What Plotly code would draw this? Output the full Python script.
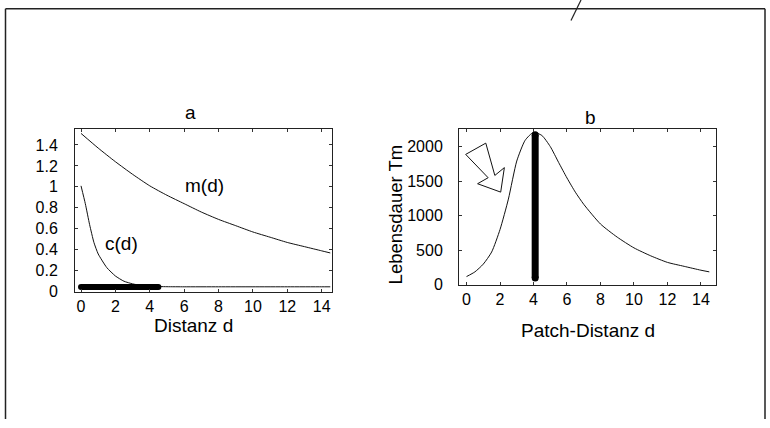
import plotly.graph_objects as go

W, H = 770, 428

# ---------------- Panel a data ----------------
d_m = [0, 1, 2, 3, 4, 5, 6, 7, 8, 9, 10, 11, 12, 13, 14, 14.5]
m_vals = [1.51, 1.37, 1.24, 1.12, 1.01, 0.92, 0.84, 0.76, 0.69, 0.63, 0.57, 0.52, 0.47, 0.43, 0.39, 0.37]

d_c = [0, 0.25, 0.5, 0.75, 1, 1.5, 2, 2.5, 3, 3.5, 4, 5, 6, 8, 10, 12, 14, 14.5]
c_vals = [1.01, 0.84, 0.64, 0.47, 0.36, 0.23, 0.15, 0.10, 0.075, 0.06, 0.052, 0.048, 0.047, 0.047, 0.047, 0.047, 0.047, 0.047]

bar_a_d = [0, 4.5]
bar_a_v = [0.045, 0.045]

a_xticks = [0, 2, 4, 6, 8, 10, 12, 14]
a_yticks = [0, 0.2, 0.4, 0.6, 0.8, 1.0, 1.2, 1.4]
a_yticktext = ["0", "0.2", "0.4", "0.6", "0.8", "1", "1.2", "1.4"]

# ---------------- Panel b data ----------------
d_T = [0, 0.5, 1.0, 1.5, 2.0, 2.5, 3.0, 3.5, 4.0, 4.5, 5.0, 5.5, 6.0, 6.5, 7.0, 8.0, 9.0, 10.0, 11.0, 12.0, 13.0, 14.0, 14.5]
T_vals = [120, 188, 300, 475, 800, 1240, 1790, 2090, 2205, 2160, 2000, 1770, 1545, 1340, 1165, 880, 690, 535, 420, 325, 268, 212, 188]

bar_b_d = [4.1, 4.1]
bar_b_T = [100, 2170]

arrow_d = [-0.05, 1.15, 1.69, 2.26, 2.04, 0.66, 1.29, -0.05]
arrow_T = [1886, 2049, 1582, 1695, 1341, 1462, 1549, 1886]

b_xticks = [0, 2, 4, 6, 8, 10, 12, 14]
b_yticks = [0, 500, 1000, 1500, 2000]

FONT = "Liberation Sans, Arial, Helvetica, sans-serif"
INK = "#111111"
TICK_SIZE = 16
TITLE_SIZE = 19

fig = go.Figure()

# panel a
fig.add_trace(go.Scatter(x=d_m, y=m_vals, mode="lines", line=dict(color=INK, width=1, shape="spline", smoothing=0.6),
                         xaxis="x", yaxis="y", hoverinfo="skip"))
fig.add_trace(go.Scatter(x=d_c, y=c_vals, mode="lines", line=dict(color=INK, width=1, shape="spline", smoothing=0.5),
                         xaxis="x", yaxis="y", hoverinfo="skip"))
fig.add_trace(go.Scatter(x=bar_a_d, y=bar_a_v, mode="lines+markers", line=dict(color="black", width=6),
                         marker=dict(color="black", size=6), xaxis="x", yaxis="y", hoverinfo="skip"))

# panel b
fig.add_trace(go.Scatter(x=d_T, y=T_vals, mode="lines", line=dict(color=INK, width=1, shape="spline", smoothing=0.6),
                         xaxis="x2", yaxis="y2", hoverinfo="skip"))
fig.add_trace(go.Scatter(x=bar_b_d, y=bar_b_T, mode="lines+markers", line=dict(color="black", width=7),
                         marker=dict(color="black", size=7), xaxis="x2", yaxis="y2", hoverinfo="skip"))
fig.add_trace(go.Scatter(x=arrow_d, y=arrow_T, mode="lines", fill="toself", fillcolor="white",
                         line=dict(color=INK, width=1), xaxis="x2", yaxis="y2", hoverinfo="skip"))


def px_x(p):
    return p / W


def px_y(p):
    return 1 - p / H


axis_common = dict(showline=True, linecolor="#222222", linewidth=1, mirror="ticks", ticks="inside",
                   ticklen=3, tickwidth=1, tickcolor="#333333", showgrid=False, zeroline=False,
                   tickfont=dict(family=FONT, size=TICK_SIZE, color="black"))

fig.update_layout(
    width=W, height=H,
    margin=dict(l=0, r=0, t=0, b=0),
    paper_bgcolor="white", plot_bgcolor="white",
    showlegend=False,
    font=dict(family=FONT, size=TICK_SIZE, color="black"),
    xaxis=dict(domain=[px_x(75), px_x(332)], range=[-0.35, 14.6], tickvals=a_xticks, anchor="y",
               ticklabelstandoff=0, **axis_common),
    yaxis=dict(domain=[px_y(298), px_y(132)], range=[0, 1.55], tickvals=a_yticks, ticktext=a_yticktext,
               anchor="x", ticklabelstandoff=13, **axis_common),
    xaxis2=dict(domain=[px_x(459), px_x(716)], range=[-0.45, 14.9], tickvals=b_xticks, anchor="y2",
                ticklabelstandoff=0, **axis_common),
    yaxis2=dict(domain=[px_y(291), px_y(132)], range=[0, 2250], tickvals=b_yticks, anchor="x2",
                ticklabelstandoff=12, **axis_common),
)

# panel labels and axis titles
fig.add_annotation(text="a", x=px_x(190), y=px_y(115), xref="paper", yref="paper", showarrow=False,
                   xanchor="center", yanchor="middle", font=dict(family=FONT, size=TITLE_SIZE))
fig.add_annotation(text="b", x=px_x(590), y=px_y(120), xref="paper", yref="paper", showarrow=False,
                   xanchor="center", yanchor="middle", font=dict(family=FONT, size=TITLE_SIZE))
fig.add_annotation(text="Distanz d", x=px_x(194), y=px_y(332), xref="paper", yref="paper", showarrow=False,
                   xanchor="center", yanchor="middle", font=dict(family=FONT, size=TITLE_SIZE))
fig.add_annotation(text="Patch-Distanz d", x=px_x(588), y=px_y(338), xref="paper", yref="paper", showarrow=False,
                   xanchor="center", yanchor="middle", font=dict(family=FONT, size=TITLE_SIZE))
fig.add_annotation(text="Lebensdauer Tm", x=px_x(395), y=px_y(219), xref="paper", yref="paper", showarrow=False,
                   textangle=-90, xanchor="center", yanchor="middle", font=dict(family=FONT, size=18.5))

# curve labels
fig.add_annotation(text="m(d)", x=7.2, y=1.01, xref="x", yref="y", showarrow=False,
                   xanchor="center", yanchor="middle", font=dict(family=FONT, size=TITLE_SIZE))
fig.add_annotation(text="c(d)", x=2.37, y=0.46, xref="x", yref="y", showarrow=False,
                   xanchor="center", yanchor="middle", font=dict(family=FONT, size=TITLE_SIZE))

# outer page frame (scan border) and stray mark at the top
fig.add_shape(type="line", xref="paper", yref="paper", x0=px_x(5.5), x1=px_x(5.5), y0=px_y(9), y1=px_y(428),
              line=dict(color="#222222", width=1.5))
fig.add_shape(type="line", xref="paper", yref="paper", x0=px_x(765), x1=px_x(765), y0=px_y(9), y1=px_y(428),
              line=dict(color="#222222", width=1.5))
fig.add_shape(type="line", xref="paper", yref="paper", x0=px_x(5.5), x1=px_x(765), y0=px_y(9), y1=px_y(9),
              line=dict(color="#222222", width=1.5))
fig.add_shape(type="line", xref="paper", yref="paper", x0=px_x(571), x1=px_x(581), y0=px_y(21), y1=px_y(0),
              line=dict(color="#222222", width=1.2))

fig.write_html("out.html", config={"displayModeBar": False},
               post_script="document.body.style.margin='0';document.body.style.overflow='hidden';")
